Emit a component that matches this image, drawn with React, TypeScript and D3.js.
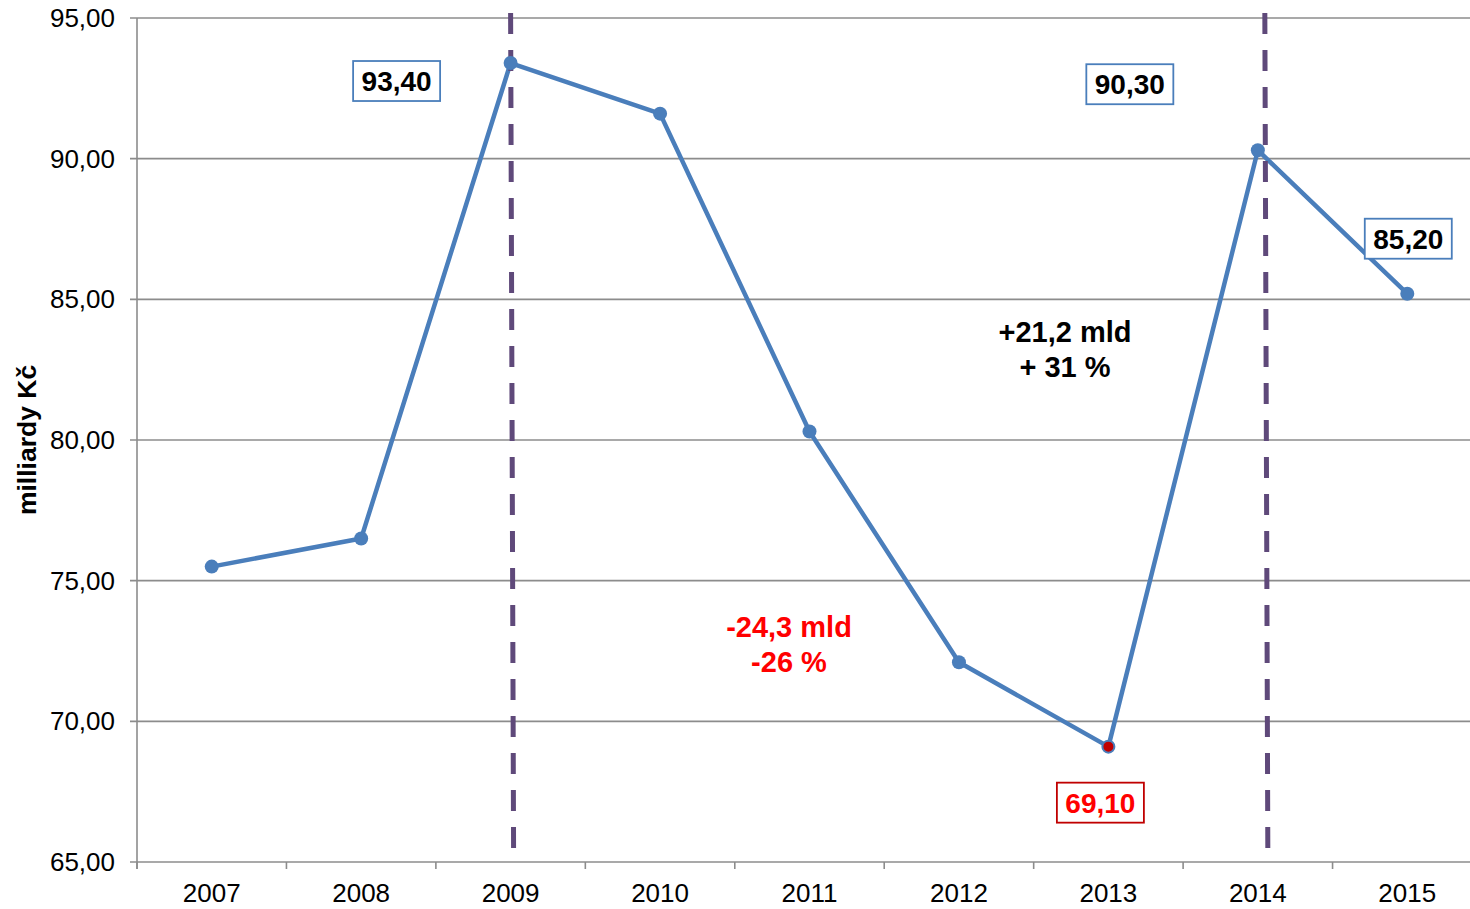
import * as d3 from 'd3';
import React, { useRef, useEffect } from 'react';

const years = ["2007", "2008", "2009", "2010", "2011", "2012", "2013", "2014", "2015"];
const values = [75.5, 76.5, 93.4, 91.6, 80.3, 72.1, 69.1, 90.3, 85.2];
const yTicks = [65, 70, 75, 80, 85, 90, 95];
// boxed value labels: year, value, colour
const boxed = [
    { year: "2009", value: 93.4, dx: -114, dy: 18, color: "#4a7ebb", text: "#000" },
    { year: "2014", value: 90.3, dx: -128, dy: -66, color: "#4a7ebb", text: "#000" },
    { year: "2015", value: 85.2, dx: 1, dy: -55, color: "#4a7ebb", text: "#000" },
    { year: "2013", value: 69.1, dx: -8, dy: 56, color: "#c00000", text: "#ff0000" },
];
const markerYears = ["2009", "2014"];

function App() {
    const ref = useRef();

    useEffect(() => {
        const width = 1470;
        const height = 909;
        const margin = { left: 137, top: 18, bottom: 47 };
        const plotRight = 1482;
        const fmt = (v) => d3.format(".2f")(v).replace(".", ",");

        const svg = d3.select(ref.current)
            .attr("width", width)
            .attr("height", height)
            .style("font-family", "'Liberation Sans', Arial, sans-serif");
        svg.selectAll("*").remove();

        const x = d3.scaleBand()
            .domain(years)
            .range([margin.left, plotRight]);
        const cx = (d) => x(d) + x.bandwidth() / 2;

        const y = d3.scaleLinear()
            .domain([65, 95])
            .range([height - margin.bottom, margin.top]);

        // grid
        svg.append("g")
            .selectAll("line")
            .data(yTicks)
            .join("line")
            .attr("x1", margin.left - 7)
            .attr("x2", plotRight)
            .attr("y1", d => y(d))
            .attr("y2", d => y(d))
            .attr("stroke", "#8c8c8c")
            .attr("stroke-width", 1.6);

        svg.append("g")
            .selectAll("text")
            .data(yTicks)
            .join("text")
            .attr("x", 115)
            .attr("y", d => y(d))
            .attr("dy", "0.35em")
            .attr("text-anchor", "end")
            .attr("font-size", 26)
            .attr("fill", "#000")
            .text(d => fmt(d));

        // y axis line
        svg.append("line")
            .attr("x1", margin.left).attr("x2", margin.left)
            .attr("y1", y(95)).attr("y2", y(65) + 7)
            .attr("stroke", "#8c8c8c")
            .attr("stroke-width", 1.6);

        // x ticks
        const bounds = years.map(d => x(d)).concat([plotRight]);
        svg.append("g")
            .selectAll("line")
            .data(bounds)
            .join("line")
            .attr("x1", d => d).attr("x2", d => d)
            .attr("y1", y(65)).attr("y2", y(65) + 7)
            .attr("stroke", "#8c8c8c")
            .attr("stroke-width", 1.6);

        svg.append("g")
            .selectAll("text")
            .data(years)
            .join("text")
            .attr("x", d => cx(d))
            .attr("y", y(65) + 40)
            .attr("text-anchor", "middle")
            .attr("font-size", 26)
            .attr("fill", "#000")
            .text(d => d);

        svg.append("text")
            .attr("transform", `translate(36, ${y(80)}) rotate(-90)`)
            .attr("text-anchor", "middle")
            .attr("font-size", 26.5)
            .attr("font-weight", "bold")
            .text("milliardy Kč");

        // line
        const pts = years.map((d, i) => ({ year: d, value: values[i] }));
        const line = d3.line()
            .x(d => cx(d.year))
            .y(d => y(d.value));
        svg.append("path")
            .datum(pts)
            .attr("d", line)
            .attr("fill", "none")
            .attr("stroke", "#4a7ebb")
            .attr("stroke-width", 4.5)
            .attr("stroke-linejoin", "round");

        // dashed markers
        svg.append("g")
            .selectAll("line")
            .data(markerYears)
            .join("line")
            .attr("x1", (d, i) => cx(d) + (i === 0 ? 0 : 7))
            .attr("x2", (d, i) => cx(d) + (i === 0 ? 3 : 10))
            .attr("y1", 13)
            .attr("y2", (d, i) => i === 0 ? 857 : 852)
            .attr("stroke", "#5f497a")
            .attr("stroke-width", 5)
            .attr("stroke-dasharray", "21 16");

        svg.append("g")
            .selectAll("circle")
            .data(pts)
            .join("circle")
            .attr("cx", d => cx(d.year))
            .attr("cy", d => y(d.value))
            .attr("r", d => d.year === "2013" ? 6 : 7)
            .attr("fill", d => d.year === "2013" ? "#c00000" : "#4a7ebb")
            .attr("stroke", "#4a7ebb")
            .attr("stroke-width", d => d.year === "2013" ? 2 : 0);

        // boxed labels
        const bw = 87, bh = 40;
        const g = svg.append("g")
            .selectAll("g")
            .data(boxed)
            .join("g")
            .attr("transform", d => `translate(${cx(d.year) + d.dx}, ${y(d.value) + d.dy})`);
        g.append("rect")
            .attr("x", -bw / 2)
            .attr("y", -bh / 2)
            .attr("width", bw)
            .attr("height", bh)
            .attr("fill", "#fff")
            .attr("stroke", d => d.color)
            .attr("stroke-width", 1.8);
        g.append("text")
            .attr("text-anchor", "middle")
            .attr("dy", "0.36em")
            .attr("font-size", 28)
            .attr("font-weight", "bold")
            .attr("fill", d => d.text)
            .text(d => fmt(d.value));

        // change annotations
        const notes = [
            { lines: ["+21,2 mld", "+ 31 %"], x: 1065, y0: 342, color: "#000" },
            { lines: ["-24,3 mld", "-26 %"], x: 789, y0: 637, color: "#ff0000" },
        ];
        notes.forEach(n => {
            svg.append("g")
                .selectAll("text")
                .data(n.lines)
                .join("text")
                .attr("x", n.x)
                .attr("y", (d, i) => n.y0 + i * 35)
                .attr("text-anchor", "middle")
                .attr("font-size", 29)
                .attr("font-weight", "bold")
                .attr("fill", n.color)
                .text(d => d);
        });
    }, []);

    return (
        <div style={{ position: "absolute", left: 0, top: 0 }}>
            <svg ref={ref} style={{ display: "block" }}>
            </svg>
        </div>
    );
}

export default App;
